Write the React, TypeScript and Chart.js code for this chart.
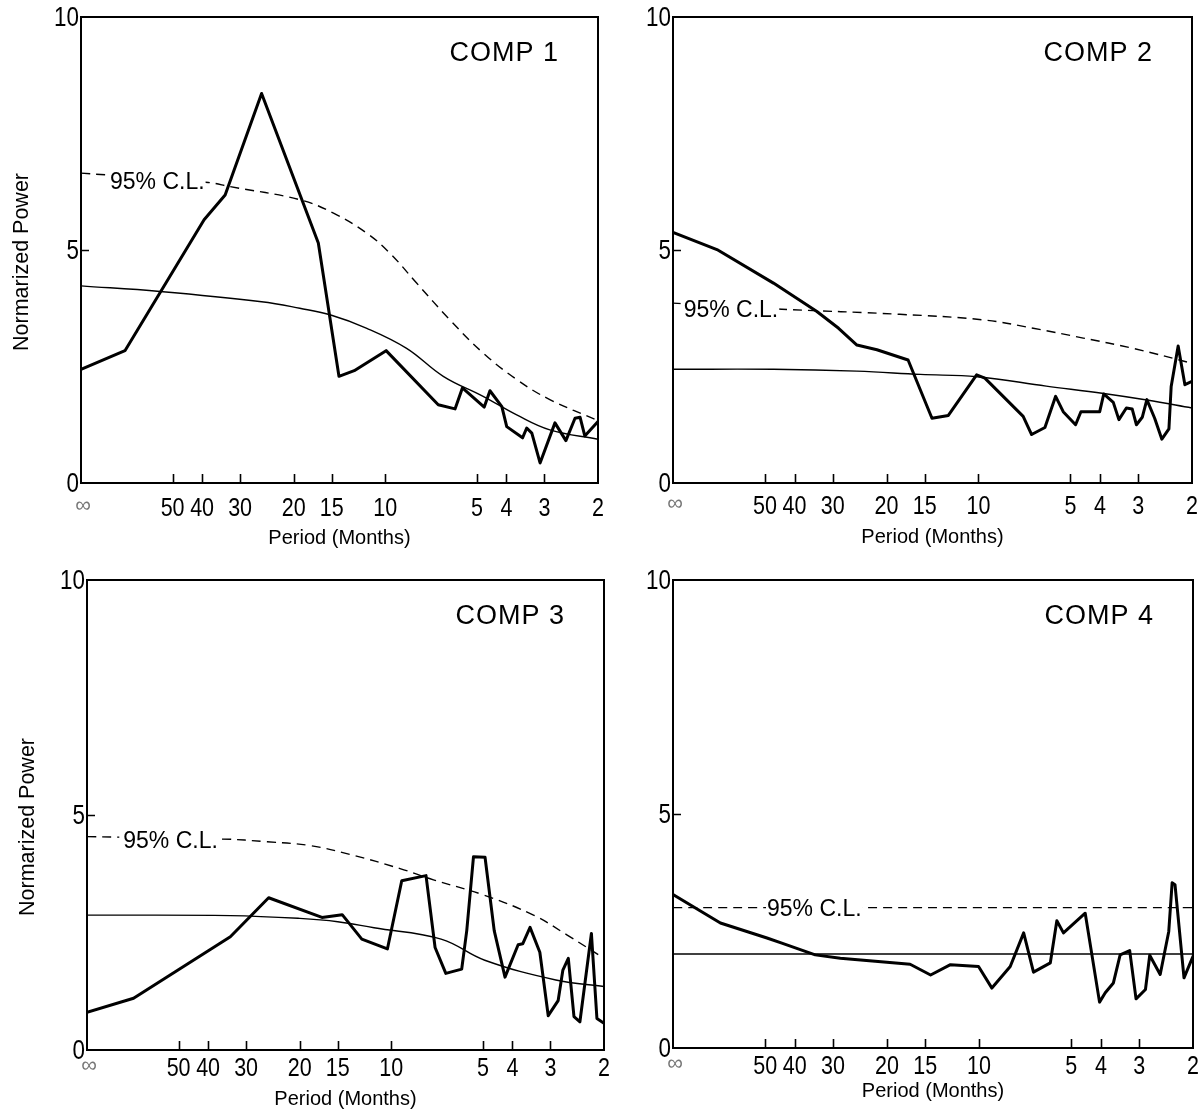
import React, { useEffect, useRef } from "react";
import { Chart, registerables } from "chart.js";

Chart.register(...registerables);

const SANS = "'Liberation Sans', Arial, Helvetica, sans-serif";

// ---- axes ----
const periodTicks = [100, 50, 40, 30, 20, 15, 10, 5, 4, 3, 2];
const periodTickLabels = ["∞", "50", "40", "30", "20", "15", "10", "5", "4", "3", "2"];
const powerTicks = [0, 5, 10];

// ---- COMP 1 ----
const comp1Periods = [100, 71.7, 39.4, 33.6, 25.5, 16.6, 14.2, 12.65, 9.94, 6.7, 5.9, 5.58, 4.73, 4.53, 4.14, 3.99, 3.54, 3.43, 3.3, 3.1, 2.77, 2.55, 2.38, 2.29, 2.21, 2.0];
const comp1Power = [2.44, 2.84, 5.65, 6.18, 8.36, 5.15, 2.29, 2.41, 2.84, 1.68, 1.59, 2.04, 1.63, 1.98, 1.64, 1.21, 0.97, 1.18, 1.07, 0.43, 1.29, 0.91, 1.39, 1.41, 1.01, 1.32];
const comp1FitPeriods = [100, 55, 25.5, 19.1, 15.2, 11.5, 8.51, 6.45, 4.77, 3.7, 2.88, 2.0];
const comp1Fit = [4.23, 4.11, 3.89, 3.75, 3.61, 3.32, 2.89, 2.29, 1.86, 1.46, 1.14, 0.94];
const comp1ClPeriods = [100, 38.2, 32.4, 19.1, 14.8, 11.5, 9.65, 7.89, 6.13, 4.77, 3.7, 2.88, 2.0];
const comp1Cl = [6.65, 6.45, 6.36, 6.08, 5.79, 5.36, 4.93, 4.29, 3.5, 2.79, 2.22, 1.79, 1.34];
const comp1ClLabel = [80.3, 6.46];

// ---- COMP 2 ----
const comp2Periods = [100, 71.8, 46.9, 33.8, 28.7, 25.0, 21.5, 17.0, 14.2, 12.55, 10.14, 9.53, 7.14, 6.7, 6.06, 5.59, 5.28, 4.81, 4.62, 4.01, 3.89, 3.62, 3.47, 3.28, 3.14, 3.04, 2.91, 2.81, 2.65, 2.51, 2.38, 2.34, 2.22, 2.11, 2.0];
const comp2Power = [5.38, 5.01, 4.29, 3.68, 3.32, 2.96, 2.86, 2.64, 1.39, 1.45, 2.32, 2.25, 1.43, 1.04, 1.19, 1.86, 1.53, 1.25, 1.53, 1.53, 1.91, 1.73, 1.36, 1.61, 1.59, 1.25, 1.41, 1.79, 1.39, 0.94, 1.16, 2.07, 2.94, 2.11, 2.18];
const comp2FitPeriods = [100, 46.9, 25, 15.5, 10.1, 6.0, 3.89, 2.81, 2.0];
const comp2Fit = [2.44, 2.44, 2.4, 2.33, 2.28, 2.08, 1.92, 1.78, 1.61];
const comp2ClPeriods = [100, 44, 18.1, 9.64, 6.62, 4.54, 3.12, 2.0];
const comp2Cl = [3.86, 3.73, 3.62, 3.5, 3.32, 3.11, 2.89, 2.57];
const comp2ClLabel = [92.3, 3.71];

// ---- COMP 3 ----
const comp3Periods = [100, 70.3, 33.8, 25.3, 16.9, 14.5, 12.5, 10.3, 9.24, 7.69, 7.18, 6.62, 5.87, 5.65, 5.37, 4.92, 4.59, 4.23, 3.83, 3.7, 3.5, 3.25, 3.05, 2.83, 2.73, 2.62, 2.51, 2.4, 2.2, 2.11, 2.0];
const comp3Power = [0.8, 1.1, 2.41, 3.24, 2.82, 2.88, 2.36, 2.15, 3.6, 3.71, 2.18, 1.63, 1.72, 2.54, 4.11, 4.1, 2.54, 1.55, 2.24, 2.26, 2.61, 2.08, 0.73, 1.05, 1.7, 1.95, 0.71, 0.6, 2.48, 0.67, 0.57];
const comp3FitPeriods = [100, 33.8, 20, 15, 11.4, 6.86, 4.93, 2.88, 2.0];
const comp3Fit = [2.87, 2.86, 2.8, 2.73, 2.6, 2.36, 1.91, 1.49, 1.35];
const comp3ClPeriods = [100, 36, 25.6, 18.5, 13.65, 9.36, 7.27, 4.98, 3.41, 2.65, 2.0];
const comp3Cl = [4.54, 4.49, 4.43, 4.35, 4.16, 3.86, 3.62, 3.3, 2.87, 2.45, 1.95];
const comp3ClLabel = [76, 4.45];

// ---- COMP 4 ----
const comp4Periods = [100, 70.0, 49.3, 44.1, 34.3, 28.4, 16.8, 14.4, 12.4, 10.04, 9.08, 7.91, 7.15, 6.64, 5.85, 5.57, 5.3, 4.5, 4.04, 3.87, 3.64, 3.46, 3.22, 3.07, 2.86, 2.77, 2.56, 2.4, 2.34, 2.29, 2.14, 2.0];
const comp4Power = [3.28, 2.67, 2.35, 2.24, 1.99, 1.92, 1.79, 1.56, 1.78, 1.74, 1.28, 1.74, 2.46, 1.62, 1.82, 2.72, 2.46, 2.88, 0.98, 1.18, 1.39, 1.99, 2.08, 1.05, 1.25, 1.98, 1.57, 2.49, 3.53, 3.49, 1.5, 1.96];
const comp4FitPeriods = [100, 2];
const comp4Fit = [2.01, 2.01];
const comp4ClPeriods = [100, 2];
const comp4Cl = [3.0, 3.0];
const comp4ClLabel = [49.3, 2.98];

type Spec = {
  title: string;
  periods: number[];
  power: number[];
  fitPeriods: number[];
  fit: number[];
  clPeriods: number[];
  cl: number[];
  clLabel: number[];
  clPad: number[];
  box: number[];
  area: number[];
  yTitle: boolean;
  xTitleOffset: number;
  xLabelOffset: number;
};

const PANELS: Spec[] = [
  {
    title: "COMP 1", periods: comp1Periods, power: comp1Power, fitPeriods: comp1FitPeriods, fit: comp1Fit,
    clPeriods: comp1ClPeriods, cl: comp1Cl, clLabel: comp1ClLabel, clPad: [4, 1],
    box: [0, 0, 620, 556], area: [81, 17, 598, 483], yTitle: true, xTitleOffset: 55, xLabelOffset: 25,
  },
  {
    title: "COMP 2", periods: comp2Periods, power: comp2Power, fitPeriods: comp2FitPeriods, fit: comp2Fit,
    clPeriods: comp2ClPeriods, cl: comp2Cl, clLabel: comp2ClLabel, clPad: [3, 1],
    box: [620, 0, 580, 556], area: [673, 17, 1192, 483], yTitle: false, xTitleOffset: 54, xLabelOffset: 23,
  },
  {
    title: "COMP 3", periods: comp3Periods, power: comp3Power, fitPeriods: comp3FitPeriods, fit: comp3Fit,
    clPeriods: comp3ClPeriods, cl: comp3Cl, clLabel: comp3ClLabel, clPad: [4, 1],
    box: [0, 556, 620, 556], area: [87, 580, 604, 1050], yTitle: true, xTitleOffset: 49, xLabelOffset: 18,
  },
  {
    title: "COMP 4", periods: comp4Periods, power: comp4Power, fitPeriods: comp4FitPeriods, fit: comp4Fit,
    clPeriods: comp4ClPeriods, cl: comp4Cl, clLabel: comp4ClLabel, clPad: [1, 1],
    box: [620, 556, 580, 556], area: [673, 580, 1193, 1048], yTitle: false, xTitleOffset: 43, xLabelOffset: 18,
  },
];

function pts(xs: number[], ys: number[]) {
  return xs.map((x, i) => ({ x, y: ys[i] }));
}

const decorPlugin = {
  id: "panelDecor",
  afterDatasetDraw(chart: any, args: any, opts: any) {
    if (args.index !== 2) return;
    const { ctx, scales } = chart;
    const x = scales.x.getPixelForValue(opts.clLabel[0]);
    const y = scales.y.getPixelForValue(opts.clLabel[1]);
    const text = "95% C.L.";
    ctx.save();
    ctx.font = `23px ${SANS}`;
    const w = ctx.measureText(text).width;
    ctx.fillStyle = "#fff";
    ctx.fillRect(x - opts.clPad[0], y - 11, w + opts.clPad[0] + opts.clPad[1], 22);
    ctx.fillStyle = "#000";
    ctx.textAlign = "left";
    ctx.textBaseline = "middle";
    ctx.fillText(text, x, y + 1);
    ctx.restore();
  },
  afterDraw(chart: any, _args: any, opts: any) {
    const { ctx, chartArea: a, scales } = chart;
    ctx.save();
    ctx.strokeStyle = "#000";
    ctx.lineWidth = 2;
    ctx.strokeRect(a.left, a.top, a.right - a.left, a.bottom - a.top);
    ctx.lineWidth = 1.6;
    ctx.beginPath();
    periodTicks.forEach((v) => {
      if (v === scales.x.min || v === scales.x.max) return;
      const x = Math.round(scales.x.getPixelForValue(v)) + 0.5;
      ctx.moveTo(x, a.bottom);
      ctx.lineTo(x, a.bottom - 9);
    });
    powerTicks.forEach((v) => {
      if (v === scales.y.min || v === scales.y.max) return;
      const y = Math.round(scales.y.getPixelForValue(v)) + 0.5;
      ctx.moveTo(a.left, y);
      ctx.lineTo(a.left + 8, y);
    });
    ctx.stroke();

    // x tick labels (condensed look)
    ctx.textBaseline = "middle";
    ctx.textAlign = "center";
    periodTicks.forEach((v, i) => {
      const x = scales.x.getPixelForValue(v);
      const y = a.bottom + opts.xLabelOffset;
      if (v === scales.x.max) {
        ctx.fillStyle = "#777";
        ctx.font = `22px ${SANS}`;
        ctx.fillText(periodTickLabels[i], x + 2, y - 2);
      } else {
        ctx.save();
        ctx.fillStyle = "#000";
        ctx.translate(x, y);
        ctx.scale(0.86, 1);
        ctx.font = `25px ${SANS}`;
        ctx.fillText(periodTickLabels[i], 0, 1);
        ctx.restore();
      }
    });

    // y tick labels
    ctx.fillStyle = "#000";
    ctx.textAlign = "right";
    powerTicks.forEach((v) => {
      const y = scales.y.getPixelForValue(v);
      ctx.save();
      ctx.translate(a.left - 2, y);
      ctx.scale(0.8, 1);
      ctx.font = `28px ${SANS}`;
      ctx.fillText(String(v), 0, 1);
      ctx.restore();
    });

    ctx.save();
    ctx.fillStyle = "#000";
    ctx.font = `27px ${SANS}`;
    try {
      (ctx as any).letterSpacing = "1px";
    } catch (e) {
      /* ignore */
    }
    ctx.textAlign = "right";
    ctx.textBaseline = "middle";
    ctx.fillText(opts.title, a.right - 39, a.top + 37);
    ctx.restore();

    ctx.fillStyle = "#000";
    ctx.textBaseline = "middle";
    ctx.font = `20px ${SANS}`;
    ctx.textAlign = "center";
    ctx.fillText("Period (Months)", (a.left + a.right) / 2, a.bottom + opts.xTitleOffset);

    if (opts.yTitle) {
      ctx.translate(a.left - 59, (a.top + a.bottom) / 2 + 12);
      ctx.rotate(-Math.PI / 2);
      ctx.font = `21.5px ${SANS}`;
      ctx.textAlign = "center";
      ctx.fillText("Normarized Power", 0, 0);
    }
    ctx.restore();
  },
};

function Panel({ spec }: { spec: Spec }) {
  const ref = useRef<HTMLCanvasElement | null>(null);
  const [bl, bt, bw, bh] = spec.box;
  useEffect(() => {
    const [al, at, ar, ab] = spec.area;
    const yAxisW = al - bl;
    const xAxisH = bt + bh - ab;
    const chart = new Chart(ref.current as HTMLCanvasElement, {
      type: "line",
      data: {
        datasets: [
          {
            data: pts(spec.periods, spec.power),
            borderColor: "#000",
            borderWidth: 3,
            pointRadius: 0,
            tension: 0,
            fill: false,
            borderJoinStyle: "round",
            borderCapStyle: "round",
          },
          {
            data: pts(spec.fitPeriods, spec.fit),
            borderColor: "#000",
            borderWidth: 1.4,
            pointRadius: 0,
            tension: 0.4,
            fill: false,
          },
          {
            data: pts(spec.clPeriods, spec.cl),
            borderColor: "#000",
            borderWidth: 1.4,
            borderDash: [9, 6],
            pointRadius: 0,
            tension: 0.4,
            fill: false,
          },
        ],
      } as any,
      options: {
        animation: false,
        responsive: false,
        maintainAspectRatio: false,
        devicePixelRatio: 1,
        layout: { padding: { left: 0, top: at - bt, right: bl + bw - ar, bottom: 0 } },
        plugins: {
          legend: { display: false },
          tooltip: { enabled: false },
          panelDecor: {
            title: spec.title,
            clLabel: spec.clLabel,
            clPad: spec.clPad,
            yTitle: spec.yTitle,
            xTitleOffset: spec.xTitleOffset,
            xLabelOffset: spec.xLabelOffset,
          },
        } as any,
        scales: {
          x: {
            type: "logarithmic",
            reverse: true,
            min: 2,
            max: 100,
            grid: { display: false, drawTicks: false },
            border: { display: false },
            afterBuildTicks: (s: any) => {
              s.ticks = periodTicks.map((v) => ({ value: v }));
            },
            afterFit: (s: any) => {
              s.height = xAxisH;
            },
            ticks: { display: false, autoSkip: false },
          },
          y: {
            type: "linear",
            min: 0,
            max: 10,
            grid: { display: false, drawTicks: false },
            border: { display: false },
            afterBuildTicks: (s: any) => {
              s.ticks = powerTicks.map((v) => ({ value: v }));
            },
            afterFit: (s: any) => {
              s.width = yAxisW;
            },
            ticks: { display: false },
          },
        } as any,
      },
      plugins: [decorPlugin as any],
    });
    return () => chart.destroy();
  }, [spec]);
  return (
    <canvas
      ref={ref}
      width={bw}
      height={bh}
      style={{ position: "absolute", left: bl, top: bt, width: bw, height: bh }}
    />
  );
}

export default function App() {
  return (
    <div
      style={{
        position: "absolute",
        left: 0,
        top: 0,
        width: 1200,
        height: 1112,
        background: "#fff",
        overflow: "hidden",
      }}
    >
      {PANELS.map((p) => (
        <Panel key={p.title} spec={p} />
      ))}
    </div>
  );
}
